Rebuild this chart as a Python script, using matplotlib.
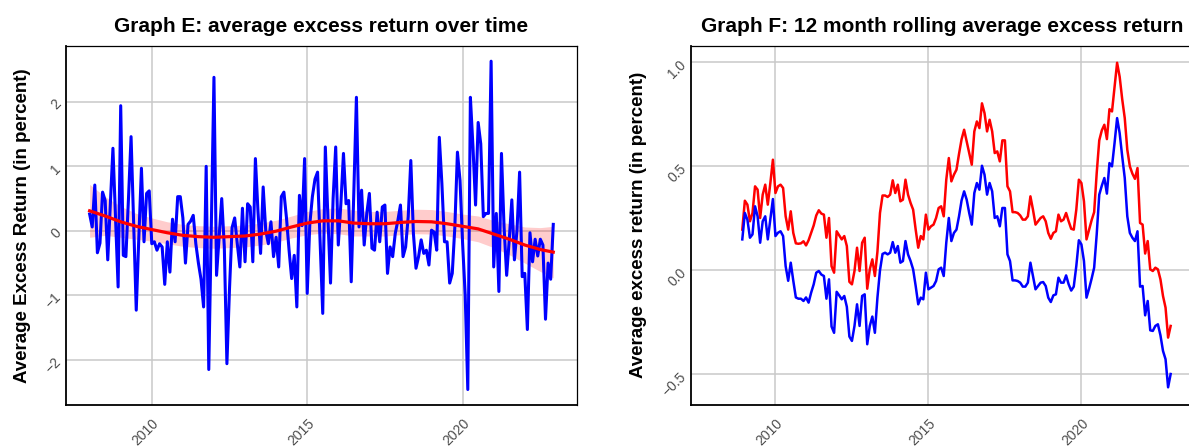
import numpy as np
import matplotlib
matplotlib.use("Agg")
import matplotlib.pyplot as plt

# monthly average excess return (in percent), Jan 2008 .. Dec 2022
start_year = 2008
monthly_return = [
    0.26, 0.06, 0.71, -0.34, -0.19, 0.60, 0.47, -0.45, 0.40, 1.28, 0.20, -0.87,      # 2008
    1.94, -0.38, -0.40, 0.50, 1.46, 0.10, -1.23, -0.10, 0.97, -0.17, 0.58, 0.62,     # 2009
    -0.20, -0.17, -0.30, -0.20, -0.25, -0.83, -0.17, -0.64, 0.18, -0.17, 0.53, 0.53, # 2010
    0.20, -0.50, 0.10, 0.15, 0.24, -0.20, -0.50, -0.75, -1.18, 1.00, -2.15, 0.10,    # 2011
    2.38, -0.69, -0.10, 0.50, -0.25, -2.06, -0.90, 0.05, 0.20, -0.20, -0.56, 0.35,   # 2012
    -0.48, 0.42, 0.37, -0.48, 1.12, 0.30, -0.35, 0.68, 0.00, -0.20, 0.14, -0.40,     # 2013
    -0.10, -0.56, 0.53, 0.60, 0.20, -0.30, -0.74, -0.38, -1.18, 0.55, 0.08, 1.12,    # 2014
    -0.97, 0.10, 0.53, 0.80, 0.91, -0.20, -1.28, 1.30, 0.20, -0.81, 0.50, 1.30,      # 2015
    -0.22, 0.42, 1.20, 0.42, 0.47, -0.79, 0.60, 2.07, 0.06, 0.63, -0.22, 0.27,       # 2016
    0.58, -0.27, -0.30, 0.29, -0.17, 0.37, 0.40, -0.66, -0.25, -0.40, -0.04, 0.16,   # 2017
    0.40, -0.40, -0.25, 0.22, 1.09, -0.04, -0.58, -0.40, -0.14, -0.35, -0.30, -0.53, # 2018
    0.01, -0.02, -0.30, 1.45, 0.73, -0.17, -0.17, -0.81, -0.66, 0.06, 1.22, 0.78,    # 2019
    -0.20, -1.00, -2.46, 2.07, 1.30, 0.40, 1.68, 1.35, 0.22, 0.27, 0.27, 2.63,       # 2020
    -0.56, 0.27, -0.94, 1.20, 0.06, -0.69, -0.14, 0.48, -0.45, 0.01, 0.91, -0.71,    # 2021
    -0.66, -1.53, -0.03, -0.48, -0.13, -0.39, -0.13, -0.22, -1.37, -0.50, -0.75, 0.10,  # 2022
]

# loess trend (month index, fit, half width of band)
smooth_month = [0, 6, 12, 18, 24, 30, 36, 42, 48, 54, 60, 66, 72, 78, 84, 90,
                96, 102, 108, 114, 120, 126, 132, 138, 144, 150, 156, 162, 168, 174, 179]
smooth_fit = [0.31, 0.23, 0.14, 0.07, 0.02, -0.03, -0.07, -0.09, -0.10, -0.09, -0.08,
              -0.05, -0.005, 0.06, 0.12, 0.155, 0.155, 0.12, 0.11, 0.11, 0.13, 0.145,
              0.14, 0.11, 0.07, 0.03, -0.05, -0.13, -0.22, -0.29, -0.33]
smooth_se = [0.41, 0.30, 0.24, 0.20, 0.18, 0.17, 0.17, 0.17, 0.17, 0.17, 0.17,
             0.17, 0.17, 0.17, 0.18, 0.19, 0.20, 0.20, 0.19, 0.19, 0.19, 0.19,
             0.19, 0.19, 0.19, 0.20, 0.21, 0.24, 0.28, 0.34, 0.40]

# 12 month rolling averages, Dec 2008 .. Dec 2022
rolling_start = 11
rolling_red = [
    0.196,                                                                          # 2008-12
    0.335, 0.316, 0.236, 0.276, 0.404, 0.388, 0.252, 0.364, 0.412, 0.316, 0.420, 0.532,  # 2009
    0.372, 0.404, 0.412, 0.396, 0.260, 0.196, 0.284, 0.180, 0.130, 0.128, 0.130, 0.140,  # 2010
    0.120, 0.145, 0.180, 0.216, 0.264, 0.289, 0.273, 0.268, 0.157, 0.252, 0.020, -0.011, # 2011
    0.188, 0.168, 0.149, 0.165, 0.117, -0.055, -0.067, -0.003, 0.109, -0.003, 0.133, 0.157,  # 2012
    -0.088, 0.005, 0.053, -0.027, 0.090, 0.276, 0.360, 0.360, 0.353, 0.364, 0.433, 0.372,    # 2013
    0.412, 0.332, 0.340, 0.436, 0.364, 0.324, 0.292, 0.196, 0.109, 0.165, 0.149, 0.268,  # 2014
    0.196, 0.212, 0.220, 0.252, 0.300, 0.308, 0.260, 0.436, 0.540, 0.428, 0.460, 0.484,  # 2015
    0.560, 0.630, 0.676, 0.620, 0.564, 0.508, 0.668, 0.716, 0.684, 0.803, 0.756, 0.668,  # 2016
    0.724, 0.668, 0.564, 0.572, 0.524, 0.625, 0.625, 0.404, 0.380, 0.280, 0.280, 0.276,  # 2017
    0.264, 0.244, 0.244, 0.260, 0.356, 0.292, 0.220, 0.236, 0.252, 0.260, 0.236, 0.180,  # 2018
    0.152, 0.180, 0.188, 0.268, 0.236, 0.244, 0.276, 0.236, 0.200, 0.196, 0.292, 0.436,  # 2019
    0.420, 0.332, 0.149, 0.196, 0.241, 0.280, 0.468, 0.625, 0.673, 0.700, 0.631, 0.775,  # 2020
    0.764, 0.883, 0.998, 0.931, 0.823, 0.732, 0.580, 0.500, 0.465, 0.440, 0.492, 0.228,  # 2021
    0.220, 0.081, 0.141, 0.005, -0.003, 0.013, 0.005, -0.043, -0.123, -0.179, -0.323, -0.267,  # 2022
]
rolling_blue = [
    0.149,                                                                          # 2008-12
    0.276, 0.244, 0.157, 0.173, 0.308, 0.260, 0.133, 0.236, 0.260, 0.149, 0.244, 0.343,  # 2009
    0.165, 0.181, 0.188, 0.165, 0.020, -0.050, 0.037, -0.050, -0.130, -0.136, -0.136, -0.147,  # 2010
    -0.130, -0.155, -0.107, -0.067, -0.011, -0.003, -0.020, -0.027, -0.136, -0.043, -0.270, -0.300,  # 2011
    -0.103, -0.120, -0.139, -0.123, -0.175, -0.318, -0.339, -0.267, -0.163, -0.267, -0.123, -0.115,  # 2012
    -0.355, -0.267, -0.222, -0.300, -0.131, 0.000, 0.079, 0.085, 0.077, 0.085, 0.136, 0.085,  # 2013
    0.117, 0.037, 0.045, 0.141, 0.077, 0.045, 0.005, -0.075, -0.163, -0.131, -0.139, -0.011,  # 2014
    -0.091, -0.083, -0.075, -0.051, 0.005, 0.013, -0.027, 0.133, 0.252, 0.141, 0.180, 0.196,  # 2015
    0.260, 0.336, 0.380, 0.340, 0.276, 0.220, 0.372, 0.420, 0.388, 0.503, 0.460, 0.364,  # 2016
    0.420, 0.380, 0.252, 0.260, 0.212, 0.300, 0.300, 0.077, 0.045, -0.048, -0.048, -0.051,  # 2017
    -0.059, -0.078, -0.078, -0.059, 0.037, -0.027, -0.091, -0.075, -0.059, -0.056, -0.075, -0.131,  # 2018
    -0.152, -0.120, -0.115, -0.035, -0.059, -0.059, -0.024, -0.067, -0.097, -0.078, 0.021, 0.145,  # 2019
    0.125, 0.045, -0.131, -0.088, -0.040, 0.013, 0.173, 0.364, 0.407, 0.444, 0.369, 0.516,  # 2020
    0.500, 0.612, 0.732, 0.660, 0.548, 0.444, 0.260, 0.180, 0.157, 0.141, 0.188, -0.078,  # 2021
    -0.075, -0.216, -0.147, -0.288, -0.291, -0.267, -0.259, -0.312, -0.387, -0.427, -0.562, -0.498,  # 2022
]

year_ticks = [2010, 2015, 2020]
left_yticks = [-2, -1, 0, 1, 2]
right_yticks = [-0.5, 0.0, 0.5, 1.0]
right_yticklabels = ["\u22120.5", "0.0", "0.5", "1.0"]

plt.rcParams["font.family"] = ["Liberation Sans", "DejaVu Sans"]

W, H = 1189, 446


def px_axes(fig, left, top, right, bottom):
    return fig.add_axes([left / W, 1 - bottom / H, (right - left) / W, (bottom - top) / H])


def style(ax, yticks, yticklabels=None):
    ax.set_axisbelow(True)
    ax.grid(True, color="#c9c9c9", linewidth=1.1)
    ax.set_xticks(year_ticks)
    ax.set_yticks(yticks)
    if yticklabels is not None:
        ax.set_yticklabels(yticklabels)
    ax.tick_params(length=0, labelsize=10, labelcolor="#4d4d4d")
    ax.tick_params(axis="x", pad=8)
    ax.tick_params(axis="y", pad=5)
    for lab in ax.get_xticklabels():
        lab.set_rotation(45)
        lab.set_ha("right")
        lab.set_va("top")
        lab.set_rotation_mode("anchor")
    for lab in ax.get_yticklabels():
        lab.set_rotation(45)
        lab.set_ha("right")
        lab.set_va("center")
        lab.set_rotation_mode("anchor")
    for side in ["left", "bottom"]:
        ax.spines[side].set_linewidth(1.3)
    for side in ["top", "right"]:
        ax.spines[side].set_linewidth(0.9)
    for sp in ax.spines.values():
        sp.set_color("black")


fig = plt.figure(figsize=(W / 100, H / 100), dpi=100)

# Graph E
t = start_year + np.arange(len(monthly_return)) / 12
ts = start_year + np.array(smooth_month) / 12
fit = np.array(smooth_fit)
se = np.array(smooth_se)
ax1 = px_axes(fig, 66, 45.7, 577, 405)
ax1.plot(t, monthly_return, color="#0000ff", linewidth=2.2, solid_joinstyle="round")
ax1.fill_between(ts, fit - se, fit + se, color="#ff0000", alpha=0.2, linewidth=0)
ax1.plot(ts, fit, color="#ff0000", linewidth=2.3)
ax1.set_xlim(2007.24, 2023.68)
ax1.set_ylim(-2.70, 2.87)
style(ax1, left_yticks)
ax1.set_title("Graph E: average excess return over time", fontsize=15,
              fontweight="bold", pad=10)
ax1.text(-0.086, 0.5, "Average Excess Return (in percent)", transform=ax1.transAxes,
         rotation=90, ha="center", va="center", fontsize=13.5, fontweight="bold")

# Graph F
tr = start_year + (rolling_start + np.arange(len(rolling_red))) / 12
ax2 = px_axes(fig, 691, 45.7, 1194, 405)
ax2.plot(tr, rolling_red, color="#ff0000", linewidth=1.8)
ax2.plot(tr, rolling_blue, color="#0000ff", linewidth=1.8)
ax2.set_xlim(2007.24, 2023.68)
ax2.set_ylim(-0.647, 1.08)
style(ax2, right_yticks, right_yticklabels)
ax2.set_title("Graph F: 12 month rolling average excess return", fontsize=15,
              fontweight="bold", pad=10)
ax2.text(-0.105, 0.5, "Average excess return (in percent)", transform=ax2.transAxes,
         rotation=90, ha="center", va="center", fontsize=13.5, fontweight="bold")

fig.savefig("out.png", dpi=100)
